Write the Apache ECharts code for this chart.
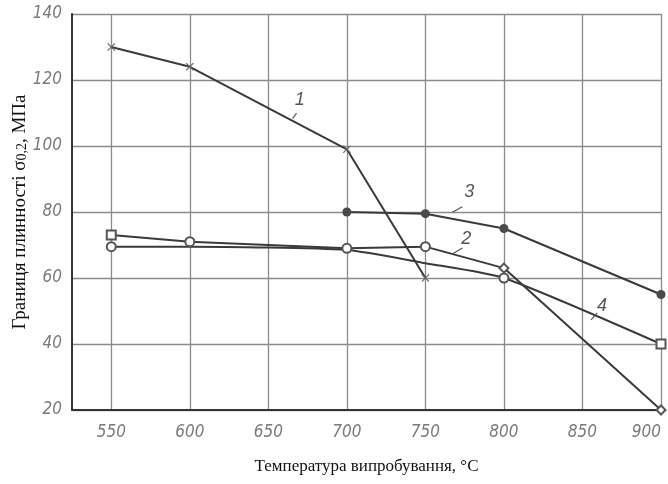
<!DOCTYPE html>
<html>
<head>
<meta charset="utf-8">
<script src="https://cdn.jsdelivr.net/npm/echarts@6/dist/echarts.min.js"></script>
<style>
  html, body { margin: 0; padding: 0; background: #fff; }
  #main { width: 668px; height: 484px; }
</style>
</head>
<body>
<div id="main"></div>
<script>
var temps1 = [550, 600, 700, 750];
var sigma1 = [130, 124, 99, 60];
var temps2 = [550, 600, 700, 750, 800, 900];
var sigma2 = [73, 71, 69, 69.5, 63, 20];
var temps3 = [700, 750, 800, 900];
var sigma3 = [80, 79.5, 75, 55];
var temps4 = [550, 600, 700, 750, 800, 900];
var sigma4 = [69.5, 69.5, 68.5, 64.5, 60, 40];
var yTicks = [20, 40, 60, 80, 100, 120, 140];

function pairs(xs, ys) {
    return xs.map(function (x, i) { return [x, ys[i]]; });
}

var crossPath = 'path://M0,1L1,0L5,4L9,0L10,1L6,5L10,9L9,10L5,6L1,10L0,9L4,5Z';
var lineColor = '#3a3a3a';
var tickFont = {
    fontFamily: 'Liberation Sans Narrow, DejaVu Sans Condensed, sans-serif',
    fontStyle: 'italic',
    fontSize: 17,
    color: '#7a7a7a'
};

// number written beside each curve, with a short leader stroke
function curveLabel(text, pos) {
    return {
        symbol: 'circle',
        symbolSize: 1,
        itemStyle: { color: 'rgba(0,0,0,0)' },
        data: [{ coord: pos }],
        label: {
            show: true,
            position: 'inside',
            formatter: text,
            fontFamily: 'Liberation Sans Narrow, sans-serif',
            fontStyle: 'italic',
            fontSize: 18,
            color: '#555'
        }
    };
}
function leader(from, to) {
    return {
        silent: true,
        symbol: ['none', 'none'],
        label: { show: false },
        lineStyle: { color: '#555', width: 1.2, type: 'solid' },
        data: [[{ coord: from }, { coord: to }]]
    };
}

var chart = echarts.init(document.getElementById('main'));
var option = {
    backgroundColor: '#fff',
    animation: false,
    grid: { left: 72, right: 7, top: 14, bottom: 74, outerBoundsMode: 'none', containLabel: false },
    xAxis: {
        type: 'value',
        min: 525,
        max: 900,
        interval: 25,
        name: 'Температура випробування, °C',
        nameLocation: 'middle',
        nameGap: 48,
        nameMoveOverlap: false,
        nameTextStyle: { fontFamily: 'Liberation Serif, serif', fontSize: 17, color: '#111' },
        axisLine: { show: true, lineStyle: { color: '#333', width: 2 } },
        axisTick: { show: false },
        axisLabel: Object.assign({
            margin: 14,
            alignMaxLabel: 'right',
            formatter: function (v) { return v % 50 === 0 ? String(v) : ''; }
        }, tickFont),
        splitLine: { show: true, lineStyle: { color: ['rgba(0,0,0,0)', '#8a8a8a'], width: 1.3 } }
    },
    yAxis: {
        type: 'value',
        min: yTicks[0],
        max: yTicks[yTicks.length - 1],
        interval: 20,
        name: '{a|Границя плинності σ}{s|0,2}{a|, МПа}',
        nameLocation: 'middle',
        nameGap: 42,
        nameMoveOverlap: false,
        nameTextStyle: {
            rich: {
                a: { fontFamily: 'Liberation Serif, serif', fontSize: 19, color: '#111' },
                s: { fontFamily: 'Liberation Serif, serif', fontSize: 14, color: '#111', padding: [4, 0, 0, 0] }
            }
        },
        axisLine: { show: true, lineStyle: { color: '#333', width: 2 } },
        axisTick: { show: false },
        axisLabel: Object.assign({ margin: 10 }, tickFont),
        splitLine: { show: true, lineStyle: { color: '#8a8a8a', width: 1.3 } }
    },
    series: [
        {
            name: '1',
            type: 'line',
            data: pairs(temps1, sigma1),
            symbol: crossPath,
            symbolSize: 8,
            lineStyle: { color: lineColor, width: 2 },
            itemStyle: { color: '#666' },
            markPoint: curveLabel('1', [670, 114]),
            markLine: leader([668, 110], [665.5, 108.3])
        },
        {
            name: '2',
            type: 'line',
            data: pairs(temps2, sigma2).map(function (p, i) {
                var sym = i === 0 ? 'emptyRect' : (i >= 4 ? 'emptyDiamond' : 'emptyCircle');
                return { value: p, symbol: sym };
            }),
            symbolSize: 9,
            lineStyle: { color: lineColor, width: 2 },
            itemStyle: { color: '#555', borderWidth: 1.3 },
            markPoint: curveLabel('2', [776, 71.8]),
            markLine: leader([773.5, 69.1], [767.2, 67.3])
        },
        {
            name: '3',
            type: 'line',
            data: pairs(temps3, sigma3),
            symbol: 'circle',
            symbolSize: 9,
            lineStyle: { color: lineColor, width: 2 },
            itemStyle: { color: '#4a4a4a' },
            markPoint: curveLabel('3', [778, 86]),
            markLine: leader([773.5, 81.6], [767.2, 79.9])
        },
        {
            name: '4',
            type: 'line',
            data: pairs(temps4, sigma4).map(function (p, i) {
                var sym = i === 5 ? 'emptyRect' : 'emptyCircle';
                var show = i === 0 || i === 4 || i === 5;
                return { value: p, symbol: show ? sym : 'none' };
            }),
            symbolSize: 9,
            smooth: 0.2,
            lineStyle: { color: lineColor, width: 2 },
            itemStyle: { color: '#555', borderWidth: 1.3 },
            markPoint: curveLabel('4', [862.5, 51.6]),
            markLine: leader([859.3, 49.4], [855.5, 47.3])
        }
    ]
};
chart.setOption(option);
</script>
</body>
</html>
